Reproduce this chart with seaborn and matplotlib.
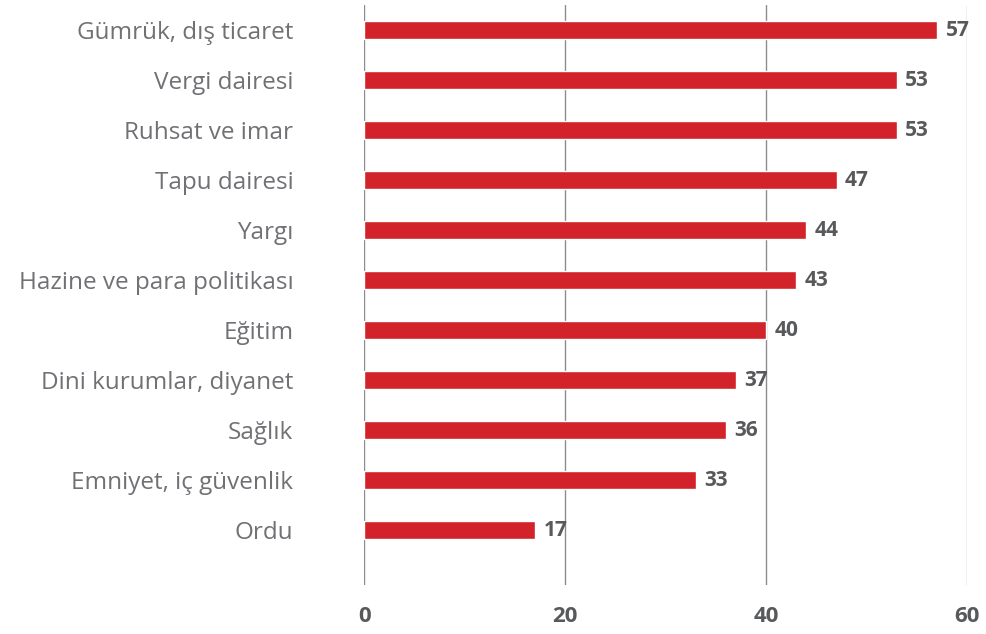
import matplotlib.pyplot as plt
import pandas as pd
import seaborn as sns

# Data
categories = [
    "Gümrük, dış ticaret",
    "Vergi dairesi",
    "Ruhsat ve imar",
    "Tapu dairesi",
    "Yargı",
    "Hazine ve para politikası",
    "Eğitim",
    "Dini kurumlar, diyanet",
    "Sağlık",
    "Emniyet, iç güvenlik",
    "Ordu",
]
values = [57, 53, 53, 47, 44, 43, 40, 37, 36, 33, 17]
x_ticks = [0, 20, 40, 60]

df = pd.DataFrame({"category": categories, "value": values})

sns.set_theme(style="white")
plt.rcParams["font.family"] = ["Open Sans", "DejaVu Sans"]

fig = plt.figure(figsize=(9.87, 6.34), dpi=100)
ax = fig.add_axes([0.369, 0.077, 0.611, 0.915])

sns.barplot(data=df, x="value", y="category", color="#d2232a",
            width=0.37, saturation=1, ax=ax)

# value labels next to each bar
for i, v in enumerate(values):
    ax.annotate(str(v), (v, i), xytext=(6, 0), textcoords="offset points",
                va="center", ha="left", fontsize=15, fontweight="bold",
                color="#58595b")

ax.set_xlim(0, 60)
ax.set_ylim(11.1, -0.5)
ax.set_xticks(x_ticks)
ax.set_xticklabels([str(t) for t in x_ticks], fontsize=16,
                   fontweight="bold", color="#58595b")
ax.tick_params(axis="x", length=0, pad=15)
ax.tick_params(axis="y", length=0, pad=51, labelsize=17.5, labelcolor="#707174")
ax.set_xlabel("")
ax.set_ylabel("")

grid_colors = ["#8c8c8c", "#8c8c8c", "#8c8c8c", "#b5b5b5"]
for t, c in zip(x_ticks, grid_colors):
    ax.axvline(t, color=c, linewidth=1, zorder=0)
for s in ax.spines.values():
    s.set_visible(False)

plt.savefig("out.png", dpi=100)
